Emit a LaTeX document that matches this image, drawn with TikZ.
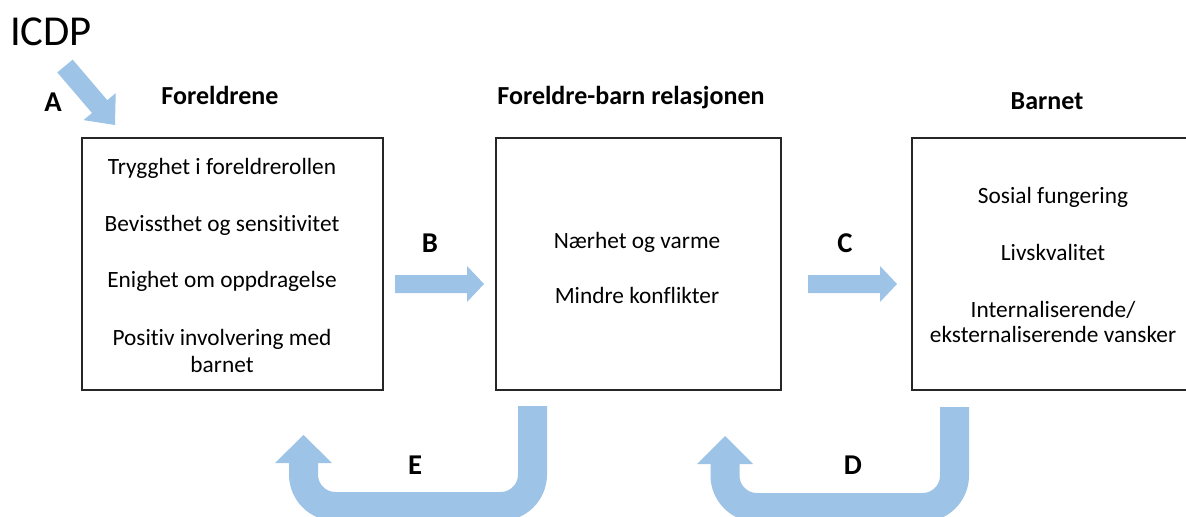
\documentclass[tikz,border=0pt]{standalone}
\usepackage{fontspec}
\setmainfont{Carlito}[Ligatures={NoCommon}]
\begin{document}
\begin{tikzpicture}[x=0.75pt,y=-0.75pt]
\definecolor{arrowblue}{RGB}{157,195,230}
\tikzset{
  box/.style={draw=black!85, line width=1.4pt, fill=none, inner sep=0pt},
  body/.style={anchor=base, inner sep=0pt, font=\fontsize{17.5}{20}\selectfont},
  title/.style={anchor=base, inner sep=0pt, font=\fontsize{19.5}{23}\selectfont\bfseries},
  lbl/.style={anchor=base, inner sep=0pt, font=\fontsize{21.5}{25}\selectfont\bfseries},
  blockarrow/.style={fill=arrowblue, draw=none},
  uturn/.style={draw=arrowblue, line width=21.75pt, line cap=butt, rounded corners=24pt}
}
\clip (0,0) rectangle (1186,517);

% boxes
\node[box, minimum width=225.75pt, minimum height=189pt] (par) at (232.5,264) {};
\node[box, minimum width=213.75pt, minimum height=189pt] (rel) at (638.5,264) {};
\node[box, minimum width=211.5pt, minimum height=189pt] (chi) at (1053,264) {};

% titles
\node[title] (t1) at (220,104) {Foreldrene};
\node[title] (t2) at (631,104) {Foreldre-barn relasjonen};
\node[title] (t3) at (1047,109) {Barnet};

% left texts
\node[body] (l1) at (222,175) {Trygghet i foreldrerollen};
\node[body] (l2) at (222,231) {Bevissthet og sensitivitet};
\node[body] (l3) at (222,287) {Enighet om oppdragelse};
\node[body] (l4) at (222,345) {Positiv involvering med};
\node[body] (l5) at (222,372) {barnet};

% middle texts
\node[body] (m1) at (637,248) {Nærhet og varme};
\node[body] (m2) at (637,303) {Mindre konflikter};

% right texts
\node[body] (r1) at (1053,203) {Sosial fungering};
\node[body] (r2) at (1053,260) {Livskvalitet};
\node[body] (r3) at (1053,317) {Internaliserende/};
\node[body] (r4) at (1053,342) {eksternaliserende vansker};

% ICDP
\node[anchor=base, inner sep=0pt, font=\fontsize{32}{38}\selectfont] (icdp) at (51,46) {ICDP};

% labels
\node[lbl] (la) at (53,112) {A};
\node[lbl] (lb) at (430,252) {B};
\node[lbl] (lc) at (845,252) {C};
\node[lbl] (le) at (415,474) {E};
\node[lbl] (ld) at (853,474) {D};

% arrow A (ICDP -> parents)
\fill[blockarrow] (72.7,59.6) -- (107.3,100.2) -- (115.7,93.1) -- (115,125) -- (83.5,120.1) -- (92,113) -- (57.3,72.4) -- cycle;

% arrow B
\fill[blockarrow] (395,275) -- (467,275) -- (467,266) -- (484,284) -- (467,302) -- (467,293) -- (395,293) -- cycle;
% arrow C
\fill[blockarrow] (808,275) -- (880,275) -- (880,266) -- (897,284) -- (880,302) -- (880,293) -- (808,293) -- cycle;

% U-turn E
\draw[uturn] (532.5,406) -- (532.5,506.5) -- (303.5,506.5) -- (303.5,462);
\fill[blockarrow] (275,463) -- (303.5,435) -- (332,463) -- cycle;

% U-turn D
\draw[uturn] (954.5,407) -- (954.5,507.5) -- (725,507.5) -- (725,463);
\fill[blockarrow] (697,464) -- (725,436) -- (753,464) -- cycle;
\end{tikzpicture}
\end{document}
